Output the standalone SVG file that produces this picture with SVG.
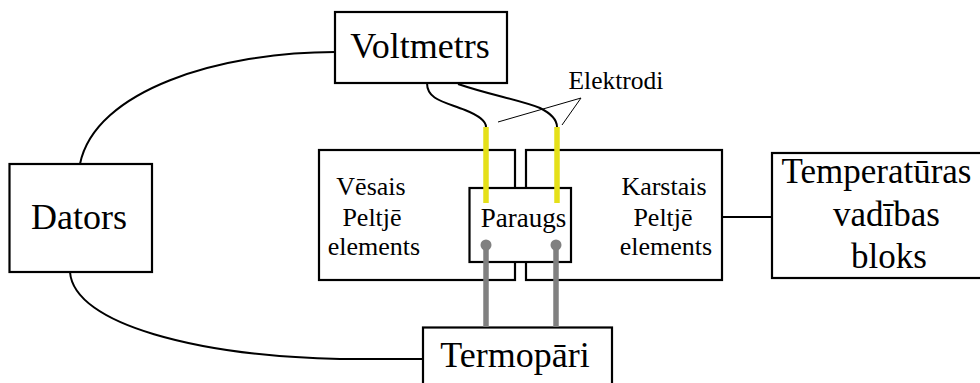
<svg xmlns="http://www.w3.org/2000/svg" width="980" height="383" viewBox="0 0 980 383">
<style>
.box{fill:#fff;stroke:#000;stroke-width:2.2}
.t{font-family:"Liberation Serif","Times New Roman",serif;fill:#000;text-anchor:middle}
.w{fill:none;stroke:#000;stroke-width:2}
.thin{fill:none;stroke:#000;stroke-width:1}
.el{stroke:#e5e01a;stroke-width:5.5;fill:none}
.tc{stroke:#808080;stroke-width:5.5;fill:none}
</style>
<rect width="980" height="383" fill="#fff"/>
<g id="connectors">
<path class="w" d="M80,164 C95,90 220,52 335,52"/>
<path class="w" d="M70,272 C74,325 200,356 340,359 L423,359"/>
<path class="w" d="M722,217 L772,217"/>
<path class="w" d="M427,83 C427,100 445,102 465,110 C480,116 486,121 486,127"/>
<path class="w" d="M458,84 C490,95 520,100 540,108 C552,114 557,121 557,127"/>
<path class="thin" d="M581,98 L498,122 M581,98 L562,125"/>
</g>
<g id="voltmetrs">
<rect class="box" x="335" y="12" width="172" height="71"/>
<text class="t" x="420" y="58" font-size="36">Voltmetrs</text>
</g>
<g id="elektrodi-label">
<text class="t" x="616" y="89" font-size="25.5">Elektrodi</text>
</g>
<g id="dators">
<rect class="box" x="9.5" y="164" width="142.5" height="108"/>
<text class="t" x="79" y="229" font-size="36">Dators</text>
</g>
<g id="vesais">
<rect class="box" x="319" y="150" width="196" height="130"/>
<text class="t" font-size="26"><tspan x="371" y="195">Vēsais</tspan><tspan x="372" y="226">Peltjē</tspan><tspan x="374" y="255">elements</tspan></text>
</g>
<g id="karstais">
<rect class="box" x="526" y="150" width="196" height="130"/>
<text class="t" font-size="26"><tspan x="664" y="195">Karstais</tspan><tspan x="663" y="226">Peltjē</tspan><tspan x="666" y="255">elements</tspan></text>
</g>
<g id="temperaturas">
<rect class="box" x="772" y="153" width="220" height="125"/>
<text class="t" font-size="35"><tspan x="876.5" y="183">Temperatūras</tspan><tspan x="886.5" y="226">vadības</tspan><tspan x="889" y="268">bloks</tspan></text>
</g>
<g id="termopari">
<rect class="box" x="423" y="327.5" width="189" height="70"/>
<text class="t" x="515" y="367" font-size="36">Termopāri</text>
</g>
<g id="paraugs">
<rect class="box" x="469.5" y="188" width="101.5" height="74"/>
<text class="t" x="523.5" y="227" font-size="27">Paraugs</text>
</g>
<g id="electrodes">
<line class="el" x1="486" y1="127" x2="486" y2="203"/>
<line class="el" x1="557" y1="127" x2="557" y2="203"/>
</g>
<g id="thermocouples">
<line class="tc" x1="486" y1="245" x2="486" y2="327"/>
<line class="tc" x1="556" y1="245" x2="556" y2="327"/>
<circle cx="486" cy="245" r="5.5" fill="#808080"/>
<circle cx="556" cy="245" r="5.5" fill="#808080"/>
</g>
</svg>
